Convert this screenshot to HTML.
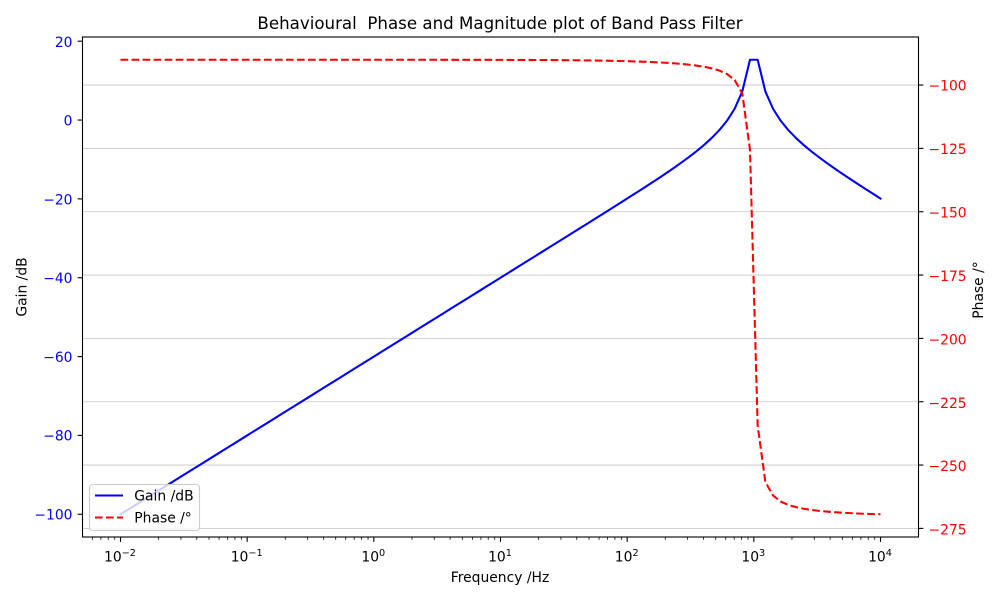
<!DOCTYPE html>
<html><head><meta charset="utf-8"><style>
html,body{margin:0;padding:0;background:#fff;}
svg{display:block;font-family:"DejaVu Sans","Liberation Sans",sans-serif;}
</style></head><body>
<svg id="s" width="1000" height="600" viewBox="0 0 1000 600" xmlns="http://www.w3.org/2000/svg">
<rect width="1000" height="600" fill="#fff"/>
<g id="grid"></g>
<polyline id="gain" fill="none" stroke="#0000ff" stroke-width="2.08" stroke-linejoin="round" stroke-linecap="square"/>
<polyline id="phase" fill="none" stroke="#ff0000" stroke-width="2.08" stroke-dasharray="7.7 3.33" stroke-linejoin="round"/>
<g id="ticks" stroke="#000" stroke-width="1.1"></g>
<rect x="82.5" y="37" width="836" height="500" fill="none" stroke="#000" stroke-width="1.1"/>
<text x="500" y="29" font-size="16.67" text-anchor="middle" fill="#000" xml:space="preserve">Behavioural  Phase and Magnitude plot of Band Pass Filter</text>
<g font-size="13.89" fill="#0000ff" text-anchor="end">
<text x="72.5" y="47">20</text>
<text x="72.5" y="125.5">0</text>
<text x="72.5" y="204.5">−20</text>
<text x="72.5" y="283">−40</text>
<text x="72.5" y="362">−60</text>
<text x="72.5" y="440.5">−80</text>
<text x="72.5" y="519.5">−100</text>
</g>
<g font-size="13.89" fill="#ff0000" text-anchor="start">
<text x="928.5" y="90.5">−100</text>
<text x="928.5" y="154">−125</text>
<text x="928.5" y="217.5">−150</text>
<text x="928.5" y="281">−175</text>
<text x="928.5" y="344.5">−200</text>
<text x="928.5" y="408">−225</text>
<text x="928.5" y="471">−250</text>
<text x="928.5" y="534.5">−275</text>
</g>
<g font-size="13.89" fill="#000" text-anchor="middle">
<text x="120" y="561.5">10<tspan font-size="9.7" dy="-5.5">−2</tspan></text>
<text x="246.7" y="561.5">10<tspan font-size="9.7" dy="-5.5">−1</tspan></text>
<text x="373.3" y="561.5">10<tspan font-size="9.7" dy="-5.5">0</tspan></text>
<text x="500" y="561.5">10<tspan font-size="9.7" dy="-5.5">1</tspan></text>
<text x="626.7" y="561.5">10<tspan font-size="9.7" dy="-5.5">2</tspan></text>
<text x="753.3" y="561.5">10<tspan font-size="9.7" dy="-5.5">3</tspan></text>
<text x="880" y="561.5">10<tspan font-size="9.7" dy="-5.5">4</tspan></text>
<text x="500" y="582">Frequency /Hz</text>
<text transform="translate(26.5,287) rotate(-90)">Gain /dB</text>
<text transform="translate(983,290) rotate(-90)">Phase /°</text>
</g>
<g>
<rect x="89.5" y="484.5" width="110" height="46" rx="3" ry="3" fill="#fff" fill-opacity="0.8" stroke="#cccccc" stroke-width="1.1"/>
<line x1="95" y1="495.5" x2="123" y2="495.5" stroke="#0000ff" stroke-width="2.08"/>
<line x1="95" y1="517.5" x2="123" y2="517.5" stroke="#ff0000" stroke-width="2.08" stroke-dasharray="7.7 3.33"/>
<text x="134.3" y="500.5" font-size="13.89" fill="#000">Gain /dB</text>
<text x="134.3" y="522.5" font-size="13.89" fill="#000">Phase /°</text>
</g>
</svg>
<script>
(function(){
var L=82.5,R=918.5,T=37,B=537;
var N=100,Q=10,f0=1000;
var fs=[],g=[],p=[];
for(var i=0;i<N;i++){
  var lf=-2+6*i/(N-1);var f=Math.pow(10,lf);var x=f/f0;
  var re=1-x*x,im=x/Q;
  var mag=x/Math.sqrt(re*re+im*im);
  fs.push(lf);g.push(20*Math.log10(mag));
  p.push(-90-Math.atan2(im,re)*180/Math.PI);
}
function lim(a){var mn=Math.min.apply(null,a),mx=Math.max.apply(null,a),m=(mx-mn)*0.05;return [mn-m,mx+m];}
var gl=lim(g),pl=lim(p);
function X(lf){return L+(lf+2.3)*(R-L)/6.6;}
function YG(v){return T+(gl[1]-v)*(B-T)/(gl[1]-gl[0]);}
function YP(v){return T+(pl[1]-v)*(B-T)/(pl[1]-pl[0]);}
var gp=[],pp=[];
for(var i=0;i<N;i++){gp.push(X(fs[i]).toFixed(2)+","+YG(g[i]).toFixed(2));pp.push(X(fs[i]).toFixed(2)+","+YP(p[i]).toFixed(2));}
document.getElementById('gain').setAttribute('points',gp.join(' '));
document.getElementById('phase').setAttribute('points',pp.join(' '));
var ns="http://www.w3.org/2000/svg";
function line(par,x1,y1,x2,y2,attrs){var e=document.createElementNS(ns,'line');e.setAttribute('x1',x1);e.setAttribute('y1',y1);e.setAttribute('x2',x2);e.setAttribute('y2',y2);if(attrs)for(var k in attrs)e.setAttribute(k,attrs[k]);par.appendChild(e);}
var grid=document.getElementById('grid'),ticks=document.getElementById('ticks');
for(var v=-100;v>=-275;v-=25){var y=YP(v);line(grid,L,y,R,y,{stroke:'#b0b0b0','stroke-width':0.8,'stroke-opacity':0.75});line(ticks,R,y,R+4.86,y);}
for(var v=20;v>=-100;v-=20){var y=YG(v);line(ticks,L-4.86,y,L,y);}
for(var d=-3;d<=4;d++){
  if(d>=-2){var x=X(d);line(ticks,x,B,x,B+4.86);}
  for(var k=2;k<=9;k++){var lf=d+Math.log10(k);if(lf>-2.3&&lf<4.3){var x=X(lf);line(ticks,x,B,x,B+2.78,{'stroke-width':0.8});}}
}
})();
</script>
</body></html>
